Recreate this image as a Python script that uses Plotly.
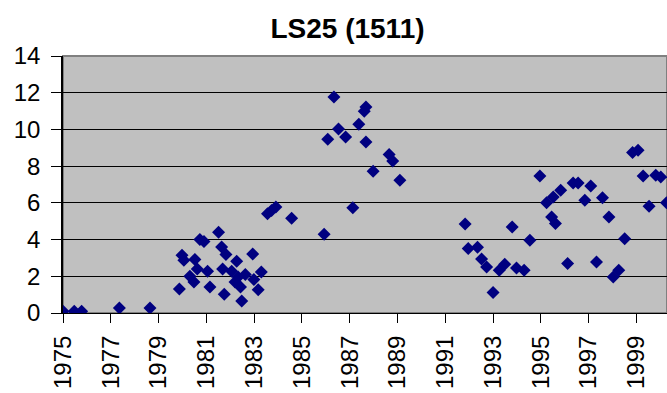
import plotly.graph_objects as go

title_text = "LS25 (1511)"

years = [
    1975.0, 1975.47, 1975.78, 1977.36, 1978.64,
    1979.87, 1979.98, 1980.06, 1980.52, 1980.62, 1980.31, 1980.48, 1980.73, 1980.9,
    1981.05, 1981.15, 1981.51, 1981.64, 1981.82, 1981.68, 1981.75, 1982.27, 1982.06,
    1982.33, 1982.2, 1982.43, 1982.48, 1982.63, 1982.94, 1982.99, 1983.17, 1983.3,
    1983.56, 1983.73, 1983.91, 1984.57,
    1985.93, 1986.08, 1986.34, 1986.53, 1986.83, 1987.13, 1987.38, 1987.61, 1987.68,
    1987.68, 1987.98, 1988.65, 1988.8, 1989.1,
    1991.83, 1991.96, 1992.35, 1992.52, 1992.73, 1993.0, 1993.26, 1993.49, 1993.8,
    1993.98, 1994.3, 1994.54, 1994.96, 1995.24, 1995.52, 1995.45, 1995.61, 1995.83,
    1996.12, 1996.35, 1996.56, 1996.84, 1997.09, 1997.33, 1997.58, 1997.85, 1998.03,
    1998.26, 1998.51, 1998.84, 1999.07, 1999.28, 1999.53, 1999.81, 2000.02, 2000.26,
]
values = [
    0.09, 0.09, 0.09, 0.27, 0.27,
    1.31, 3.14, 2.87, 2.92, 2.4, 2.0, 1.69, 4.0, 3.89,
    2.27, 1.42, 4.4, 3.6, 3.18, 2.4, 1.02, 2.82, 2.27,
    1.96, 1.69, 1.42, 0.66, 2.1, 3.21, 1.82, 1.27, 2.23,
    5.41, 5.59, 5.77, 5.16,
    4.29, 9.46, 11.77, 10.02, 9.59, 5.74, 10.28, 10.99, 11.22,
    9.31, 7.72, 8.63, 8.28, 7.23,
    4.85, 3.51, 3.58, 2.94, 2.51, 1.11, 2.33, 2.65, 4.69,
    2.45, 2.33, 3.96, 7.46, 6.01, 6.32, 5.23, 4.87, 6.68,
    2.69, 7.08, 7.08, 6.14, 6.92, 2.78, 6.28, 5.23, 1.96,
    2.33, 4.05, 8.74, 8.86, 7.46, 5.81, 7.5, 7.41, 6.01,
]

x_tick_vals = [1975, 1977, 1979, 1981, 1983, 1985, 1987, 1989, 1991, 1993, 1995, 1997, 1999]
x_tick_text = [str(v) for v in x_tick_vals]
y_tick_vals = [0, 2, 4, 6, 8, 10, 12, 14]

fig = go.Figure()
fig.add_trace(go.Scatter(
    x=years, y=values, mode="markers",
    marker=dict(symbol="diamond", size=10, color="#000080", line=dict(width=0)),
    showlegend=False,
))

fig.add_shape(type="rect", xref="paper", yref="paper", x0=0, x1=1, y0=0, y1=1,
              line=dict(color="#808080", width=2), layer="below")

fig.update_layout(
    width=667, height=393,
    margin=dict(l=63, r=0, t=56, b=80),
    paper_bgcolor="white",
    plot_bgcolor="#C0C0C0",
    font=dict(family="Liberation Sans, Arial, sans-serif", color="black", size=24),
    title=dict(text="<b>" + title_text + "</b>", x=347.5 / 667, xanchor="center",
               y=1 - 28 / 393, yanchor="middle",
               font=dict(size=28, family="Liberation Sans, Arial, sans-serif")),
)
fig.update_xaxes(
    range=[1975, 2000.28],
    tickmode="array", tickvals=x_tick_vals, ticktext=x_tick_text,
    tickangle=-90, ticks="outside", ticklen=9, tickwidth=1, tickcolor="black",
    ticklabelstandoff=3,
    showgrid=False, zeroline=False, automargin=False,
    showline=True, linecolor="black", linewidth=1,
    tickfont=dict(size=24),
)
fig.update_yaxes(
    range=[0, 14],
    tickmode="array", tickvals=y_tick_vals,
    ticks="outside", ticklen=10, tickwidth=1, tickcolor="black",
    ticklabelstandoff=6,
    showgrid=True, gridcolor="black", gridwidth=1,
    zeroline=False, automargin=False,
    showline=True, linecolor="black", linewidth=1.5,
    tickfont=dict(size=24),
)

fig.write_html(
    "out.html",
    config={"displayModeBar": False},
    post_script="document.documentElement.style.overflow='hidden';"
                "document.body.style.margin='0';document.body.style.overflow='hidden';",
)
